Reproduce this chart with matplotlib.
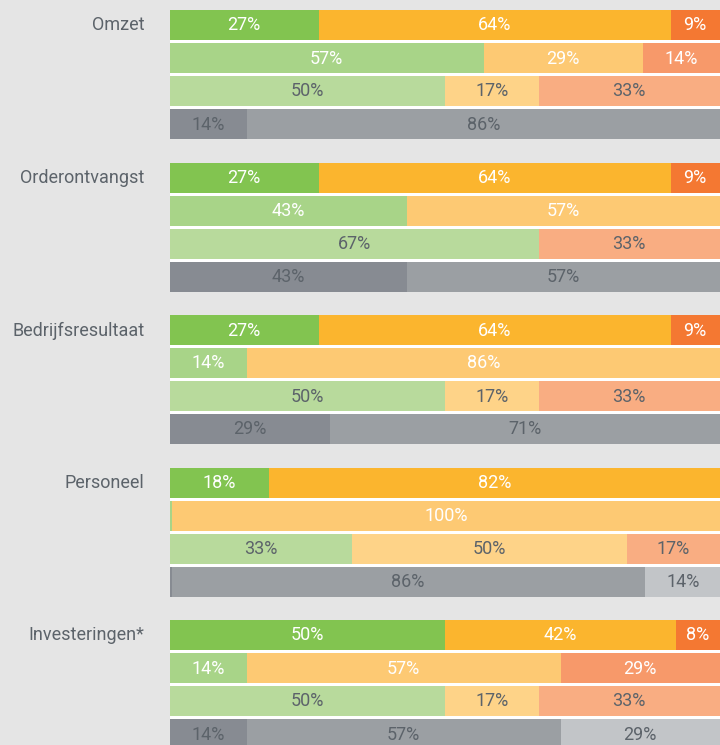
import matplotlib.pyplot as plt
from matplotlib.patches import Rectangle

plt.rcParams['font.family'] = ['Roboto', 'DejaVu Sans']

groups = ["Omzet", "Orderontvangst", "Bedrijfsresultaat", "Personeel", "Investeringen*"]

# per group: 4 rows, each row = (left, middle, right) share in %
omzet = [[27, 64, 9], [57, 29, 14], [50, 17, 33], [14, 86, 0]]
orderontvangst = [[27, 64, 9], [43, 57, 0], [67, 0, 33], [43, 57, 0]]
bedrijfsresultaat = [[27, 64, 9], [14, 86, 0], [50, 17, 33], [29, 71, 0]]
personeel = [[18, 82, 0], [0.3, 100, 0], [33, 50, 17], [0.3, 86, 14]]
investeringen = [[50, 42, 8], [14, 57, 29], [50, 17, 33], [14, 57, 29]]
values = [omzet, orderontvangst, bedrijfsresultaat, personeel, investeringen]

row_colors = [
    ["#82c450", "#fbb52e", "#f47832"],
    ["#a8d488", "#fdc973", "#f7996a"],
    ["#b8da9c", "#fed388", "#f9ad82"],
    ["#878b92", "#9b9fa3", "#c2c5c8"],
]
row_text = ["white", "white", "#5c636a", "#5c636a"]
label_color = "#5c636a"
bg = "#e5e5e5"

# layout in pixels
W, H = 720, 745
x0 = 170
px = (W - x0) / 100.0
group_pitch = 152.5
row_pitch = 33
bar_h = 30
top0 = 10

fig = plt.figure(figsize=(7.2, 7.45), dpi=100, facecolor=bg)
ax = fig.add_axes([0, 0, 1, 1])
ax.set_facecolor(bg)
ax.set_xlim(-x0 / px, 100)
ax.set_ylim(H, 0)
ax.axis("off")

for g, name in enumerate(groups):
    top = top0 + g * group_pitch
    # white strip shows through the gaps between rows
    ax.add_patch(Rectangle((0, top), 100, 3 * row_pitch + bar_h,
                           facecolor="white", edgecolor="none", zorder=1))
    ax.text(-4.6, top + bar_h / 2 + 0.5, name, ha="right", va="center",
            fontsize=13, color=label_color)
    for r, row in enumerate(values[g]):
        y = top + r * row_pitch
        left = 0
        for k, v in enumerate(row):
            if v == 0:
                continue
            ax.barh(y, v, left=left, height=bar_h, align="edge",
                    color=row_colors[r][k], edgecolor="none", zorder=2)
            if v >= 1:
                ax.text(left + v / 2, y + bar_h / 2 + 0.5, "%d%%" % v,
                        ha="center", va="center", fontsize=13,
                        color=row_text[r], zorder=3)
            left += v

plt.savefig("out.png", dpi=100, facecolor=bg)
